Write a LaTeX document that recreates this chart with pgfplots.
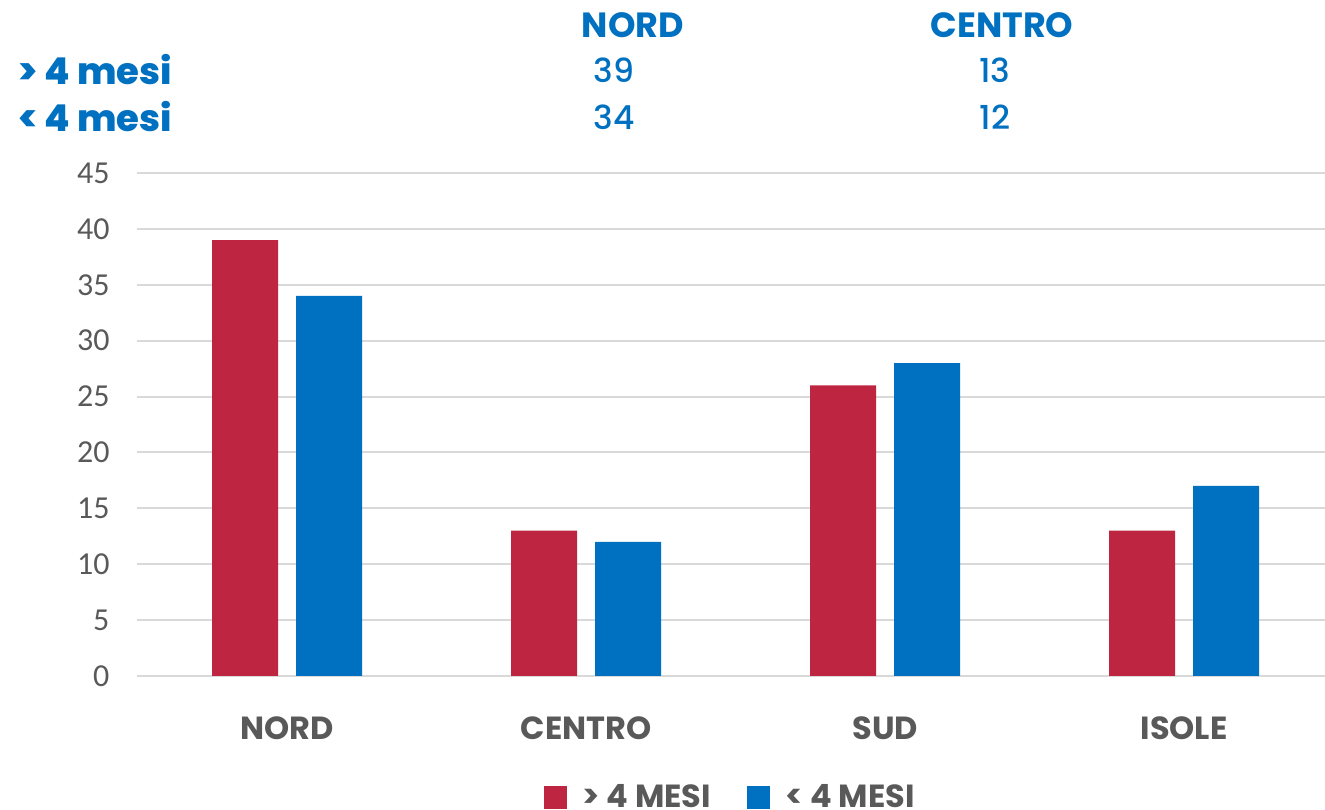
\documentclass[border=0pt]{standalone}
\usepackage{pgfplots}
\pgfplotsset{compat=1.18}
\usepackage{fontspec}
\setmainfont{Poppins}
\newfontfamily\carlito{Carlito}
\newfontfamily\popxb{Poppins}[UprightFont=* ExtraBold]
\newfontfamily\popmed{Poppins}[UprightFont=* Medium]
\definecolor{cred}{HTML}{BE2540}
\definecolor{cblue}{HTML}{0070C0}
\definecolor{cgray}{HTML}{595959}
\definecolor{cgrid}{HTML}{D9D9D9}
\begin{document}
\begin{tikzpicture}[x=1pt,y=1pt]
\clip (-137,-134) rectangle (1188,676);
\begin{axis}[
  at={(0,0)}, anchor=south west,
  scale only axis, width=1188pt, height=503pt,
  xmin=-0.502, xmax=3.471, ymin=0, ymax=45,
  ybar, bar width=66pt,
  axis line style={draw=none},
  major tick style={draw=none},
  ymajorgrids, grid style={cgrid, line width=2pt},
  ytick={0,5,...,45},
  xtick={0,1,2,3}, xticklabels={NORD,CENTRO,SUD,ISOLE},
  xticklabel style={font=\bfseries\fontsize{32}{32}\selectfont, text=cgray, yshift=-33pt},
  yticklabel style={font=\carlito\fontsize{32}{32}\selectfont, text=cgray, xshift=-24pt},
  /pgf/number format/assume math mode=true,
  legend style={at={(0.4992,-0.2406)}, anchor=center, draw=none, fill=none,
    font=\bfseries\fontsize{32}{32}\selectfont, text=cgray,
    /tikz/every even column/.append style={column sep=34pt}},
  legend columns=2,
  legend image code/.code={\fill[#1] (0pt,-11.5pt) rectangle (23pt,11.5pt); \path (0pt,0pt) (37pt,0pt);},
]
\addplot[fill=cred, draw=none, bar shift=-42pt] coordinates {(0,39) (1,13) (2,26) (3,13)};
\addplot[fill=cblue, draw=none, bar shift=42pt] coordinates {(0,34) (1,12) (2,28) (3,17)};
\legend{> 4 MESI, < 4 MESI}
\end{axis}
\begin{scope}[every node/.style={text=cblue, inner sep=0pt}]
\node[font=\bfseries\fontsize{35}{35}\selectfont] at (496,651) {NORD};
\node[font=\bfseries\fontsize{35}{35}\selectfont] at (865,651) {CENTRO};
\node[font=\popmed\fontsize{33}{33}\selectfont] at (477,606) {39};
\node[font=\popmed\fontsize{33}{33}\selectfont] at (858,606) {13};
\node[font=\popmed\fontsize{33}{33}\selectfont] at (477,559) {34};
\node[font=\popmed\fontsize{33}{33}\selectfont] at (858,559) {12};
\node[font=\popxb\fontsize{37}{37}\selectfont, anchor=west] at (-119,606) {> 4 mesi};
\node[font=\popxb\fontsize{37}{37}\selectfont, anchor=west] at (-119,559) {< 4 mesi};
\end{scope}
\end{tikzpicture}
\end{document}
